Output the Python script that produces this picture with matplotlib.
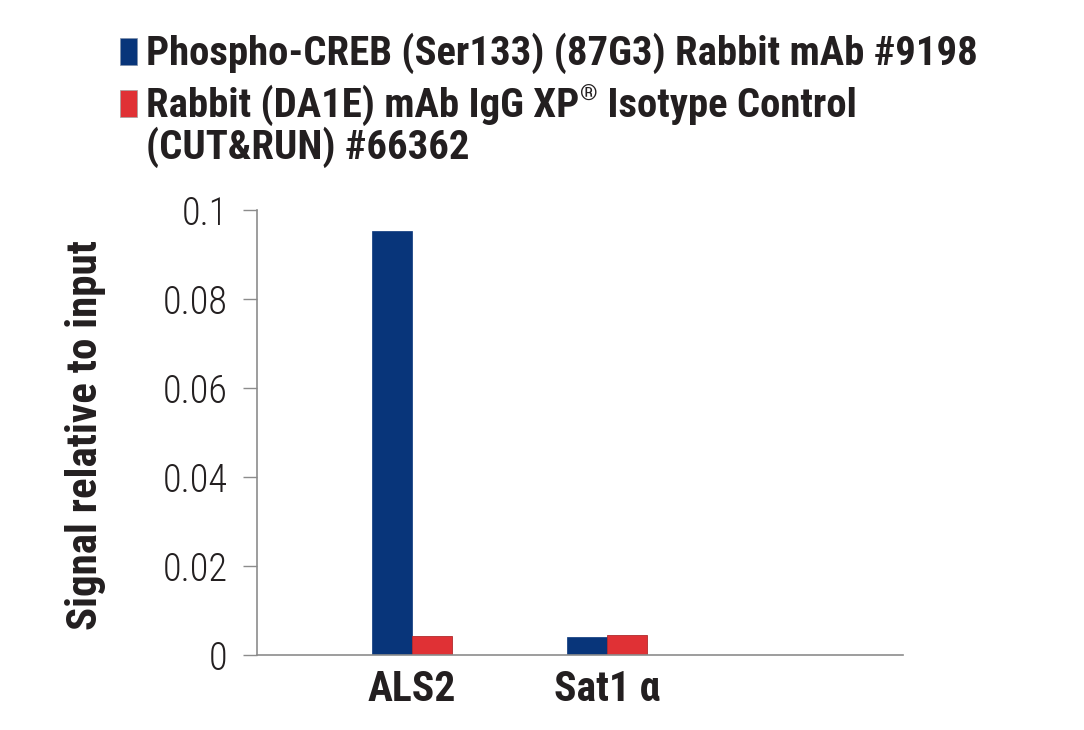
import matplotlib
matplotlib.use("Agg")
import matplotlib.pyplot as plt
from matplotlib.patches import Rectangle
import numpy as np

categories = ["ALS2", "Sat1 α"]
series_names = ["Phospho-CREB (Ser133) (87G3) Rabbit mAb #9198",
                "Rabbit (DA1E) mAb IgG XP® Isotype Control (CUT&RUN) #66362"]
creb_values = [0.0953, 0.0040]
igg_values = [0.0043, 0.0045]
y_ticks = [0, 0.02, 0.04, 0.06, 0.08, 0.1]
y_ticklabels = ["0", "0.02", "0.04", "0.06", "0.08", "0.1"]

BLUE = "#08357A"
RED = "#E03135"
TXT = "#231F20"
FONT = ["Roboto Condensed", "DejaVu Sans"]
plt.rcParams["font.family"] = FONT

fig = plt.figure(figsize=(10.84, 7.30), dpi=100)
ax = fig.add_axes([257/1084, 75/730, 646/1084, 445/730])

x = np.arange(len(categories))
w = 0.205
ax.bar(x - w/2, creb_values, width=w, color=BLUE, edgecolor=BLUE, linewidth=0.5)
ax.bar(x + w/2, igg_values, width=w, color=RED, edgecolor="#B02A2C", linewidth=0.6)

ax.set_xlim(-0.795, 2.518)
ax.set_ylim(0, 0.1)
ax.set_yticks(y_ticks)
ax.set_yticklabels(y_ticklabels, fontsize=27.5, fontweight=300)
ax.set_xticks(x)
ax.set_xticklabels(categories, fontsize=30, fontweight="bold", color=TXT)
ax.tick_params(axis="x", length=0, pad=10)
ax.tick_params(axis="y", length=10, width=1, color="#8C8C8C", pad=11, labelcolor=TXT)
for s in ["top", "right"]:
    ax.spines[s].set_visible(False)
for s in ["left", "bottom"]:
    ax.spines[s].set_color("#8C8C8C")
    ax.spines[s].set_linewidth(1.2)

ax.set_ylabel("Signal relative to input", fontsize=31, fontweight="bold", color=TXT)
ax.yaxis.set_label_coords(-0.233, 0.494)

# Legend drawn manually
H = 730.0
W = 1084.0
def fx(px):
    return px / W
def fy(py):
    return 1 - py / H

fig.patches.append(Rectangle((fx(120), fy(65)), 17/W, 27/H, transform=fig.transFigure,
                             facecolor=BLUE, edgecolor="#8090a8", linewidth=0.5))
fig.patches.append(Rectangle((fx(120), fy(117)), 17/W, 27/H, transform=fig.transFigure,
                             facecolor=RED, edgecolor="#a0a0a0", linewidth=0.5))

lkw = dict(fontsize=29.3, fontweight="bold", color=TXT, va="baseline", ha="left")
fig.text(fx(146), fy(65), series_names[0], **lkw)

parts = series_names[1].split("®")
first = parts[0]
rest_line = parts[1].split(" (CUT&RUN)")
t1 = fig.text(fx(146), fy(117), first, **lkw)
fig.canvas.draw()
r = fig.canvas.get_renderer()
bb = t1.get_window_extent(renderer=r)
t2 = fig.text(bb.x1 / W + 1/W, fy(101), "®", fontsize=16, fontweight="bold",
              color=TXT, va="baseline", ha="left")
bb2 = t2.get_window_extent(renderer=r)
fig.text(bb2.x1 / W, fy(117), rest_line[0], **lkw)
fig.text(fx(146), fy(159), "(CUT&RUN)" + rest_line[1], **lkw)

fig.savefig("out.png", dpi=100)
